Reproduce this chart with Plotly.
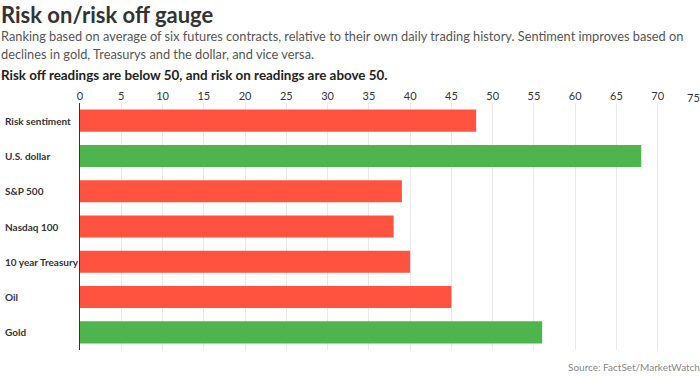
import plotly.graph_objects as go

# ---- data ----
categories = ["Risk sentiment", "U.S. dollar", "S&P 500", "Nasdaq 100",
              "10 year Treasury", "Oil", "Gold"]
values = [48, 68, 39, 38, 40, 45, 56]
tick_values = [0, 5, 10, 15, 20, 25, 30, 35, 40, 45, 50, 55, 60, 65, 70, 75]
tick_labels = [str(v) for v in tick_values]
threshold = 50

title = "Risk on/risk off gauge"
subtitle_lines = [
    "Ranking based on average of six futures contracts, relative to their own daily trading history. Sentiment improves based on",
    "declines in gold, Treasurys and the dollar, and vice versa.",
]
note = "Risk off readings are below 50, and risk on readings are above 50."
source = "Source: FactSet/MarketWatch"

# ---- style ----
RED = "#ff5340"
GREEN = "#4db54b"
FONT = "Lato, sans-serif"
colors = [GREEN if v > threshold else RED for v in values]

W, H = 700, 376
ML, MR, MT, MB = 80, 1, 103, 26

fig = go.Figure(go.Bar(
    x=values, y=categories, orientation="h",
    marker=dict(color=colors, line=dict(width=0)),
    hoverinfo="x+y",
))

fig.update_layout(
    width=W, height=H,
    margin=dict(l=ML, r=MR, t=MT, b=MB, pad=0),
    paper_bgcolor="white", plot_bgcolor="white",
    bargap=0.375,
    showlegend=False,
    font=dict(family=FONT, color="#333", size=11),
)

fig.update_xaxes(
    side="top", range=[0, 75],
    tickvals=tick_values[:-1], ticktext=tick_labels[:-1],
    showgrid=True, gridcolor="#e9e9e9", gridwidth=1,
    zeroline=False, showline=False, ticks="",
    tickfont=dict(family=FONT, size=11, color="#333"),
    fixedrange=True,
)
fig.update_yaxes(
    categoryorder="array", categoryarray=categories,
    autorange="reversed",
    showticklabels=False, showgrid=False, zeroline=False,
    showline=True, linecolor="#333", linewidth=1, ticks="",
    fixedrange=True,
)

ann = []
# title block
ann.append(dict(text=f"<b>{title}</b>", xref="paper", yref="paper", x=0, y=1,
                xshift=-ML - 1, yshift=MT - 14, xanchor="left", yanchor="middle",
                showarrow=False, font=dict(family=FONT, size=22, color="#333")))
for i, line in enumerate(subtitle_lines):
    ann.append(dict(text=line, xref="paper", yref="paper", x=0, y=1,
                    xshift=-ML - 1, yshift=MT - 36 - 18 * i, xanchor="left", yanchor="middle",
                    showarrow=False, font=dict(family=FONT, size=12.8, color="#555")))
ann.append(dict(text=f"<b>{note}</b>", xref="paper", yref="paper", x=0, y=1,
                xshift=-ML - 1, yshift=MT - 75, xanchor="left", yanchor="middle",
                showarrow=False, font=dict(family=FONT, size=13.4, color="#222")))
# category labels (left aligned)
for c in categories:
    ann.append(dict(text=f"<b>{c}</b>", xref="paper", yref="y", x=0, y=c,
                    xshift=-ML + 3, xanchor="left", yanchor="middle",
                    showarrow=False, font=dict(family=FONT, size=10, color="#333")))
# last tick label, kept inside the page
ann.append(dict(text=tick_labels[-1], xref="x", yref="paper", x=tick_values[-1], y=1,
                xanchor="right", yanchor="middle", xshift=3, yshift=6, showarrow=False,
                font=dict(family=FONT, size=11, color="#333")))
# source
ann.append(dict(text=source, xref="paper", yref="paper", x=1, y=0,
                xshift=MR + 2, yshift=-17, xanchor="right", yanchor="middle",
                showarrow=False, font=dict(family=FONT, size=10, color="#888")))
fig.update_layout(annotations=ann)

fig.write_html("out.html")
